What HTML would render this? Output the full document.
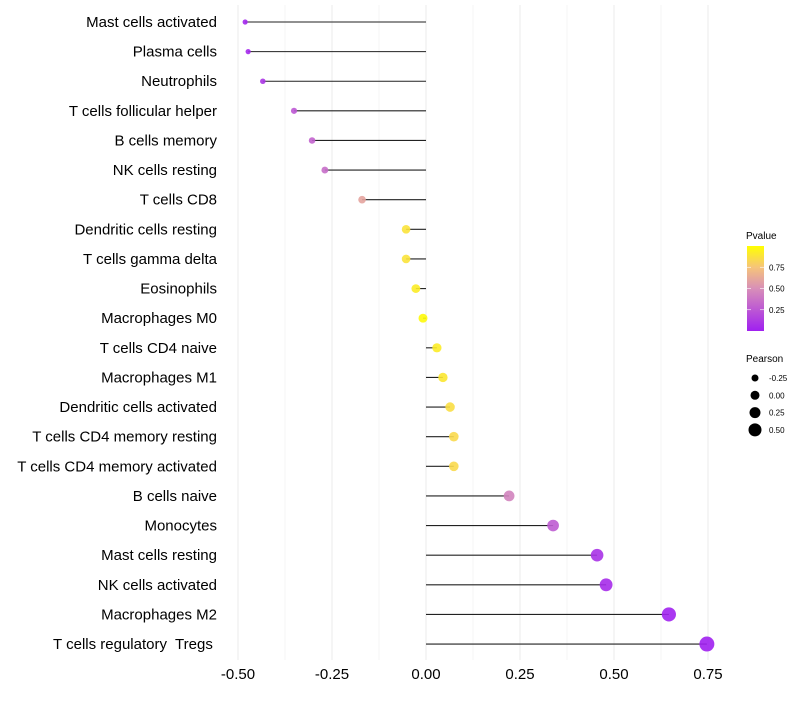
<!DOCTYPE html>
<html><head><meta charset="utf-8"><style>
body{margin:0;background:#fff;font-family:"Liberation Sans",Arial,sans-serif}
text{white-space:pre}
</style></head><body>
<svg id="chart" width="800" height="700" xmlns="http://www.w3.org/2000/svg">
<defs><linearGradient id="pg" x1="0" y1="1" x2="0" y2="0">
<stop offset="0" stop-color="#a020f0"/><stop offset="0.5" stop-color="#d88fb8"/><stop offset="0.75" stop-color="#f6c47a"/><stop offset="1" stop-color="#ffff00"/></linearGradient></defs>
<g id="grid"></g><g id="marks"></g><g id="labels"></g><g id="legend"></g>
</svg>
<script>
const categories=["Mast cells activated","Plasma cells","Neutrophils","T cells follicular helper","B cells memory","NK cells resting","T cells CD8","Dendritic cells resting","T cells gamma delta","Eosinophils","Macrophages M0","T cells CD4 naive","Macrophages M1","Dendritic cells activated","T cells CD4 memory resting","T cells CD4 memory activated","B cells naive","Monocytes","Mast cells resting","NK cells activated","Macrophages M2","T cells regulatory  Tregs "];
const pearson=[-0.481,-0.473,-0.434,-0.351,-0.303,-0.269,-0.170,-0.053,-0.053,-0.027,-0.008,0.029,0.045,0.064,0.074,0.074,0.221,0.338,0.455,0.479,0.646,0.747];
const pvalue=[0.03,0.04,0.1,0.25,0.3,0.35,0.6,0.88,0.88,0.92,0.98,0.92,0.9,0.86,0.84,0.84,0.45,0.27,0.08,0.05,0.01,0.001];
const xTicks=[-0.5,-0.25,0,0.25,0.5,0.75];
const xTickLabels=["-0.50","-0.25","0.00","0.25","0.50","0.75"];
const sizeLegend=[-0.25,0,0.25,0.5];
const sizeLegendLabels=["-0.25","0.00","0.25","0.50"];
const pTicks=[0.25,0.5,0.75];

const NS="http://www.w3.org/2000/svg";
const xs=v=>426+v*376;
const ys=i=>22+i*29.62;
const rs=v=>4.5+4*v;
function lerp(a,b,t){return a.map((x,i)=>Math.round(x+(b[i]-x)*t));}
function col(p){
  const stops=[[0,[160,32,240]],[0.5,[216,143,184]],[0.75,[246,196,122]],[1,[255,255,0]]];
  for(let k=0;k<stops.length-1;k++){if(p<=stops[k+1][0]){const t=(p-stops[k][0])/(stops[k+1][0]-stops[k][0]);return "rgb("+lerp(stops[k][1],stops[k+1][1],t).join(",")+")";}}
  return "rgb(255,255,0)";
}
function mk(tag,attrs,parent){const e=document.createElementNS(NS,tag);for(const k in attrs)e.setAttribute(k,attrs[k]);document.getElementById(parent).appendChild(e);return e;}

xTicks.forEach((t,i)=>{
  const l=mk("line",{x1:xs(t),x2:xs(t),y1:5,y2:660,stroke:"#ebebeb","stroke-width":1},"grid");
  
  
  if(i<xTicks.length-1){const m=mk("line",{x1:xs(t+0.125),x2:xs(t+0.125),y1:5,y2:660,stroke:"#f5f5f5","stroke-width":1},"grid");
  
  }
  const tx=mk("text",{x:xs(t),y:679,"text-anchor":"middle","font-size":15,fill:"#000"},"labels");
  tx.textContent=xTickLabels[i];
  
  
});
categories.forEach((c,i)=>{
  const y=ys(i);
  const ln=mk("line",{x1:xs(0),x2:xs(pearson[i]),y1:y,y2:y,stroke:"#222","stroke-width":1.1},"marks");
  
  
  const ci=mk("circle",{cx:xs(pearson[i]),cy:y,r:rs(pearson[i]),fill:col(pvalue[i]),"fill-opacity":0.9},"marks");
  
  
  const tx=mk("text",{x:217,y:y+5,"text-anchor":"end","font-size":15,fill:"#000"},"labels");
  tx.textContent=c;
  
  
});
let t=mk("text",{x:746,y:239,"font-size":10},"legend");t.textContent="Pvalue";


const bar=mk("rect",{x:747,y:246,width:17,height:85,fill:"url(#pg)"},"legend");


pTicks.forEach(p=>{const y=331-p*85;
  const tk=mk("line",{x1:747,x2:751,y1:y,y2:y,stroke:"#fff","stroke-width":0.6},"legend");
  
  
  const tk2=mk("line",{x1:760,x2:764,y1:y,y2:y,stroke:"#fff","stroke-width":0.6},"legend");
  
  
  const l=mk("text",{x:769,y:y+3,"font-size":8},"legend");l.textContent=p.toFixed(2);
  
  
});
t=mk("text",{x:746,y:362,"font-size":10},"legend");t.textContent="Pearson";


sizeLegend.forEach((v,i)=>{const y=378+i*17.3;
  const c=mk("circle",{cx:755,cy:y,r:rs(v),fill:"#000"},"legend");
  
  
  const l=mk("text",{x:769,y:y+3,"font-size":8},"legend");l.textContent=sizeLegendLabels[i];
  
  
});
</script>
</body></html>
